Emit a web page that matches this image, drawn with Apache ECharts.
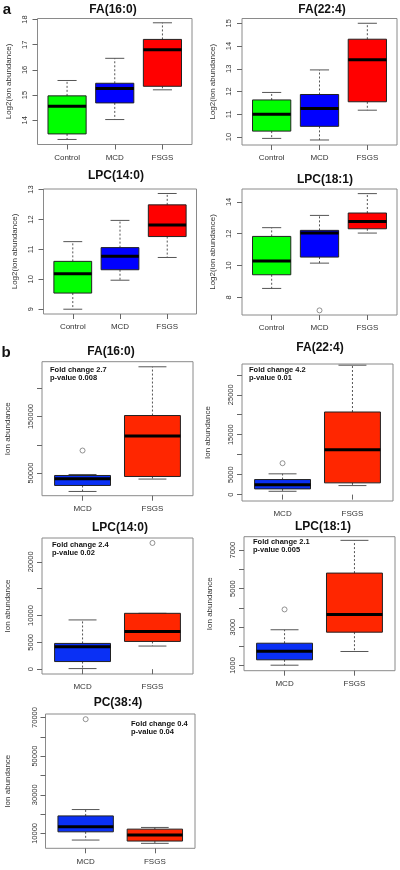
<!DOCTYPE html>
<html><head><meta charset="utf-8">
<script src="https://cdn.jsdelivr.net/npm/echarts@6/dist/echarts.min.js"></script>
<style>html,body{margin:0;padding:0;background:#fff}#c{width:400px;height:870px}</style>
</head><body><div id="c"></div>
<script>
// ---------- data ----------
const groupsA = ['Control', 'MCD', 'FSGS'];
const groupsB = ['MCD', 'FSGS'];
const panelTitles = ['FA(16:0)', 'FA(22:4)', 'LPC(14:0)', 'LPC(18:1)', 'FA(16:0)', 'FA(22:4)', 'LPC(14:0)', 'LPC(18:1)', 'PC(38:4)'];
const yNameA = 'Log2(ion abundance)';
const yNameB = 'Ion abundance';
// box stats per group: [lower whisker, Q1, median, Q3, upper whisker]
const aFA160 = [[13.24, 13.46, 14.56, 14.97, 15.58], [14.03, 14.69, 15.26, 15.47, 16.46], [15.21, 15.35, 16.80, 17.21, 17.87]];
const aFA224 = [[9.94, 10.26, 11.00, 11.63, 11.96], [9.87, 10.47, 11.25, 11.87, 12.95], [11.18, 11.55, 13.40, 14.30, 15.00]];
const aLPC140 = [[9.00, 9.54, 10.19, 10.60, 11.26], [9.97, 10.32, 10.77, 11.06, 11.97], [10.73, 11.43, 11.82, 12.49, 12.87]];
const aLPC181 = [[8.56, 9.42, 10.28, 11.83, 12.38], [10.15, 10.53, 12.04, 12.21, 13.15], [12.04, 12.31, 12.77, 13.30, 14.52]];
const bFA160 = [[17500, 28100, 39900, 45760, 47500], [39400, 44000, 115400, 151800, 238000]];
const bFA224 = [[830, 1430, 2440, 3770, 5200], [2260, 2940, 11230, 20680, 32400]];
const bLPC140 = [[110, 1420, 4180, 4800, 9180], [4310, 5170, 7040, 10410, 10410]];
const bLPC181 = [[1016, 1297, 1745, 2160, 2860], [1729, 2734, 3656, 5807, 7510]];
const bPC384 = [[6560, 10820, 13400, 19050, 22340], [4860, 6040, 9130, 12210, 13080]];
// outliers: [group number (1-based), value]
const outA3 = [[2, 7.18]];
const outB4 = [[1, 89900]];
const outB5 = [[1, 7860]];
const outB6 = [[2, 23520]];
const outB7 = [[1, 3917]];
const outB8 = [[1, 69100]];
// y ranges, ticks and labelled ticks
const yRange = [[13.04, 18.04], [9.65, 15.21], [8.84, 13.02], [6.89, 14.81], [10000, 247000], [-1600, 32700], [-900, 24450], [730, 7700], [2290, 71800]];
const yTicks = [[14, 15, 16, 17, 18], [10, 11, 12, 13, 14, 15], [9, 10, 11, 12, 13], [8, 10, 12, 14],
  [50000, 100000, 150000, 200000], [0, 5000, 10000, 15000, 20000, 25000, 30000], [0, 5000, 10000, 15000, 20000],
  [1000, 2000, 3000, 4000, 5000, 6000, 7000], [10000, 20000, 30000, 40000, 50000, 60000, 70000]];
const yTickLabels = [[14, 15, 16, 17, 18], [10, 11, 12, 13, 14, 15], [9, 10, 11, 12, 13], [8, 10, 12, 14],
  [50000, 150000], [0, 5000, 15000, 25000], [0, 5000, 10000, 20000], [1000, 3000, 5000, 7000], [10000, 30000, 50000, 70000]];
const foldChange = [null, null, null, null, 'Fold change 2.7', 'Fold change 4.2', 'Fold change 2.4', 'Fold change 2.1', 'Fold change 0.4'];
const pValues = [null, null, null, null, 'p-value 0.008', 'p-value 0.01', 'p-value 0.02', 'p-value 0.005', 'p-value 0.04'];

// ---------- layout & style ----------
const stats = [aFA160, aFA224, aLPC140, aLPC181, bFA160, bFA224, bLPC140, bLPC181, bPC384];
const outs = [[], [], [], outA3, outB4, outB5, outB6, outB7, outB8];
const grids = [
  [37.5, 18.5, 154.5, 126], [242, 18.5, 155, 126.5], [43.5, 189, 153, 125], [242, 189, 155, 126],
  [42, 361.7, 151, 134], [242, 364, 151, 137], [42, 538, 151, 136], [244, 536.7, 151, 134], [45.5, 714, 149.5, 134.3]
];
const titlePos = [[113, 10], [322, 10], [116, 176], [325, 180], [111, 352], [320, 348], [120, 528], [323, 527], [118, 703]];
const foldPos = [null, null, null, null, [50, 370], [249, 370], [52, 545], [253, 542], [131, 723.5]];
const colorsA = ['#00ff00', '#0000ff', '#ff0000'];
const colorsB = ['#0a30f5', '#ff2600'];
const FONT = '"Liberation Sans", Arial, sans-serif';

const chart = echarts.init(document.getElementById('c'), null, { renderer: 'canvas' });

function boxRenderer(colors) {
  return function (params, api) {
    const x = api.value(0);
    const lo = api.coord([x, api.value(1)]);
    const q1 = api.coord([x, api.value(2)]);
    const md = api.coord([x, api.value(3)]);
    const q3 = api.coord([x, api.value(4)]);
    const hi = api.coord([x, api.value(5)]);
    const w = api.size([0.8, 0])[0];
    const cw = w / 2;
    const cx = lo[0];
    const dash = { stroke: '#555', lineWidth: 1, lineDash: [2, 2] };
    const cap = { stroke: '#555', lineWidth: 1 };
    return {
      type: 'group', children: [
        { type: 'line', shape: { x1: cx, y1: q3[1], x2: cx, y2: hi[1] }, style: dash },
        { type: 'line', shape: { x1: cx, y1: q1[1], x2: cx, y2: lo[1] }, style: dash },
        { type: 'line', shape: { x1: cx - cw / 2, y1: hi[1], x2: cx + cw / 2, y2: hi[1] }, style: cap },
        { type: 'line', shape: { x1: cx - cw / 2, y1: lo[1], x2: cx + cw / 2, y2: lo[1] }, style: cap },
        { type: 'rect', shape: { x: cx - w / 2, y: q3[1], width: w, height: q1[1] - q3[1] }, style: { fill: colors[params.dataIndex], stroke: '#222', lineWidth: 1 } },
        { type: 'line', shape: { x1: cx - w / 2, y1: md[1], x2: cx + w / 2, y2: md[1] }, style: { stroke: '#000', lineWidth: 3 } }
      ]
    };
  };
}

const option = { animation: false, grid: [], xAxis: [], yAxis: [], series: [], graphic: [] };

stats.forEach((st, i) => {
  const isA = i < 4;
  const groups = isA ? groupsA : groupsB;
  const g = grids[i];
  option.grid.push({ left: g[0], top: g[1], width: g[2], height: g[3], show: true, borderColor: '#8a8a8a', borderWidth: 1, backgroundColor: 'transparent' });
  const centers = groups.map((_, k) => k + 1);
  option.xAxis.push({
    type: 'value', gridIndex: i, min: isA ? 0.38 : 0.42, max: isA ? 3.62 : 2.58,
    splitLine: { show: false }, axisLine: { show: false },
    axisTick: { show: true, customValues: centers, length: 5, lineStyle: { color: '#666' } },
    axisLabel: { customValues: centers, formatter: v => groups[Math.round(v) - 1] || '', fontSize: 8, color: '#333', fontFamily: FONT, margin: 9 }
  });
  option.yAxis.push({
    type: 'value', gridIndex: i, min: yRange[i][0], max: yRange[i][1],
    splitLine: { show: false }, axisLine: { show: false },
    axisTick: { show: true, customValues: yTicks[i], length: 5, lineStyle: { color: '#666' } },
    axisLabel: { customValues: yTickLabels[i], formatter: v => String(v), rotate: 90, fontSize: 7.5, color: '#333', fontFamily: FONT, margin: isA ? 9 : 7 },
    name: isA ? yNameA : yNameB, nameLocation: 'middle', nameRotate: 90,
    nameGap: isA ? 25 : (i === 8 ? 34 : 30),
    nameTextStyle: { fontSize: 8, color: '#333', fontFamily: FONT }
  });
  option.series.push({
    type: 'custom', xAxisIndex: i, yAxisIndex: i,
    data: st.map((s, k) => [k + 1].concat(s)),
    encode: { x: 0, y: [1, 2, 3, 4, 5] },
    renderItem: boxRenderer(isA ? colorsA : colorsB), clip: false
  });
  if (outs[i].length) {
    option.series.push({
      type: 'scatter', xAxisIndex: i, yAxisIndex: i, data: outs[i], symbol: 'circle', symbolSize: 5,
      itemStyle: { color: 'rgba(0,0,0,0)', borderColor: '#777', borderWidth: 1 }
    });
  }
  option.graphic.push({ type: 'text', x: titlePos[i][0], y: titlePos[i][1],
    style: { text: panelTitles[i], font: 'bold 12px ' + FONT, fill: '#111', align: 'center', verticalAlign: 'middle' } });
  if (foldChange[i]) {
    option.graphic.push({ type: 'text', x: foldPos[i][0], y: foldPos[i][1],
      style: { text: foldChange[i], font: 'bold 7.5px ' + FONT, fill: '#111', align: 'left', verticalAlign: 'middle' } });
    option.graphic.push({ type: 'text', x: foldPos[i][0], y: foldPos[i][1] + 8,
      style: { text: pValues[i], font: 'bold 7.5px ' + FONT, fill: '#111', align: 'left', verticalAlign: 'middle' } });
  }
});
option.graphic.push({ type: 'text', x: 7, y: 10, style: { text: 'a', font: 'bold 15px ' + FONT, fill: '#111', align: 'center', verticalAlign: 'middle' } });
option.graphic.push({ type: 'text', x: 6, y: 353, style: { text: 'b', font: 'bold 15px ' + FONT, fill: '#111', align: 'center', verticalAlign: 'middle' } });

chart.setOption(option);
</script></body></html>
